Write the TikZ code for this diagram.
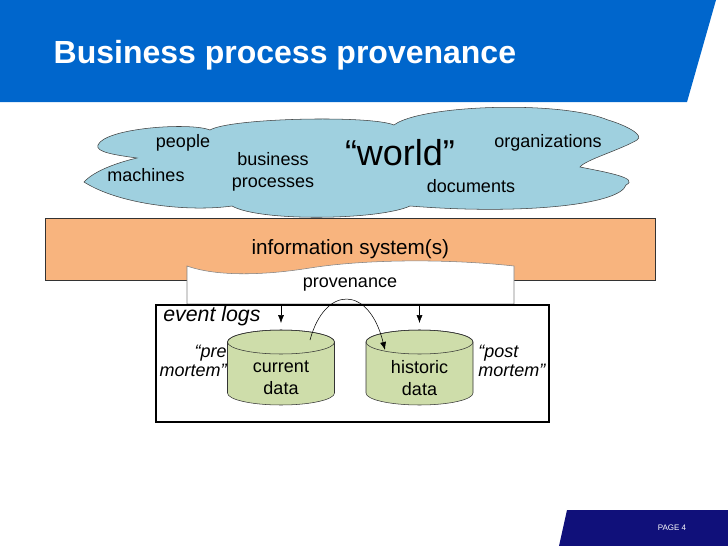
\documentclass[tikz,border=0pt]{standalone}
\usepackage{fontspec}
\setmainfont{Liberation Sans}
\usetikzlibrary{arrows.meta}
\definecolor{HDRcolor}{HTML}{0066CC}
\definecolor{NAVcolor}{HTML}{10107A}
\definecolor{CLDcolor}{HTML}{9FD0DF}
\definecolor{ISYcolor}{HTML}{F8B47E}
\definecolor{DBcolor}{HTML}{CEDDAA}

\begin{document}
\begin{tikzpicture}[x=0.75pt,y=-0.75pt,
  txt/.style={font=\fontsize{13.5}{16.5}\selectfont, align=center, inner sep=0pt},
  itxt/.style={font=\fontsize{13.5}{14.5}\selectfont\itshape, inner sep=0pt},
  dbcyl/.style={draw=black!80, fill=DBcolor},
  flow/.style={-{Latex[length=6pt,width=4.5pt]}}]
  \useasboundingbox (0,0) rectangle (728,546);

  % header and footer bars
  \fill[HDRcolor] (0,0) -- (716,0) -- (687,102) -- (0,102) -- cycle;
  \node[anchor=west, text=white, font=\fontsize{24}{28}\selectfont\bfseries] (title) at (49,55) {Business process provenance};
  \fill[NAVcolor] (567,510) -- (728,510) -- (728,546) -- (559,546) -- cycle;
  \node[text=white, font=\fontsize{6}{7}\selectfont] (page) at (672,528) {PAGE 4};

  % the world cloud
  \filldraw[draw=black!75, fill=CLDcolor]
    (98,145) .. controls (105,128) and (190,122) .. (210,130)
    .. controls (230,118) and (370,115) .. (394,125)
    .. controls (420,105) and (560,100) .. (608,120)
    .. controls (625,125) and (645,135) .. (637,140)
    .. controls (620,150) and (585,160) .. (580,167)
    .. controls (605,172) and (640,178) .. (626,185)
    .. controls (620,205) and (520,215) .. (410,206)
    .. controls (380,220) and (260,222) .. (232,206)
    .. controls (190,212) and (120,205) .. (84,182)
    .. controls (95,170) and (120,162) .. (137,158)
    .. controls (115,155) and (95,152) .. (98,145) -- cycle;
  \node[txt] (people) at (183,143) {people};
  \node[txt] (machines) at (146,175) {machines};
  \node[txt, font=\fontsize{13.5}{17}\selectfont] (busproc) at (273,172) {business\\processes};
  \node[txt, font=\fontsize{27}{30}\selectfont] (world) at (400,153) {“world”};
  \node[txt] (orgs) at (548,143) {organizations};
  \node[txt] (docs) at (471,186) {documents};

  % information system and provenance layer
  \node[draw=black!80, fill=ISYcolor, minimum width=457.5pt, minimum height=46.5pt,
    anchor=north west, txt, font=\fontsize{15.5}{17}\selectfont] (isys) at (45,218) {information system(s)};
  \filldraw[draw=black!50, fill=white] (187,304) -- (187,266)
    .. controls (215,276) and (260,276) .. (310,268)
    .. controls (360,260) and (440,258) .. (514,266) -- (514,304) -- cycle;
  \node[txt, minimum height=28.5pt] (prov) at (350,285) {provenance};

  % event logs
  \node[draw, line width=1.2pt, fill=white, minimum width=294.75pt, minimum height=87.75pt,
    anchor=north west] (logs) at (155,304) {};
  \node[itxt, font=\fontsize{16}{18}\selectfont\itshape, anchor=west] (evlbl) at (163,316) {event logs};
  \foreach \nm/\cx/\lbl in {cur/281/current, hist/419.5/historic} {
    \node[minimum width=80.25pt, minimum height=56.25pt, inner sep=0pt] (\nm) at (\cx,367.5) {};
    \filldraw[dbcyl] (\cx-53.5,342) -- (\cx-53.5,393)
      arc[start angle=180, end angle=0, x radius=53.5, y radius=12]
      -- (\cx+53.5,342) arc[start angle=0, end angle=-180, x radius=53.5, y radius=12] -- cycle;
    \draw[black!80] (\cx,342) ellipse [x radius=53.5, y radius=12];
    \node[txt] (\nm lbl) at (\cx,378) {\lbl\\data};
  }
  \node[itxt, align=right, anchor=east] (pre) at (227,361) {“pre\\mortem”};
  \node[itxt, align=left, anchor=west] (post) at (478,361) {“post\\mortem”};

  % connectors
  \draw[flow] (prov.south -| cur.north) -- ([yshift=5pt]cur.north);
  \draw[flow] (prov.south -| hist.north) -- ([yshift=5pt]hist.north);
  \coordinate (curtop) at (310,340);
  \coordinate (histtop) at (385,350);
  \draw[flow] (curtop) .. controls (325,285) and (369,285) .. (histtop);
\end{tikzpicture}
\end{document}
